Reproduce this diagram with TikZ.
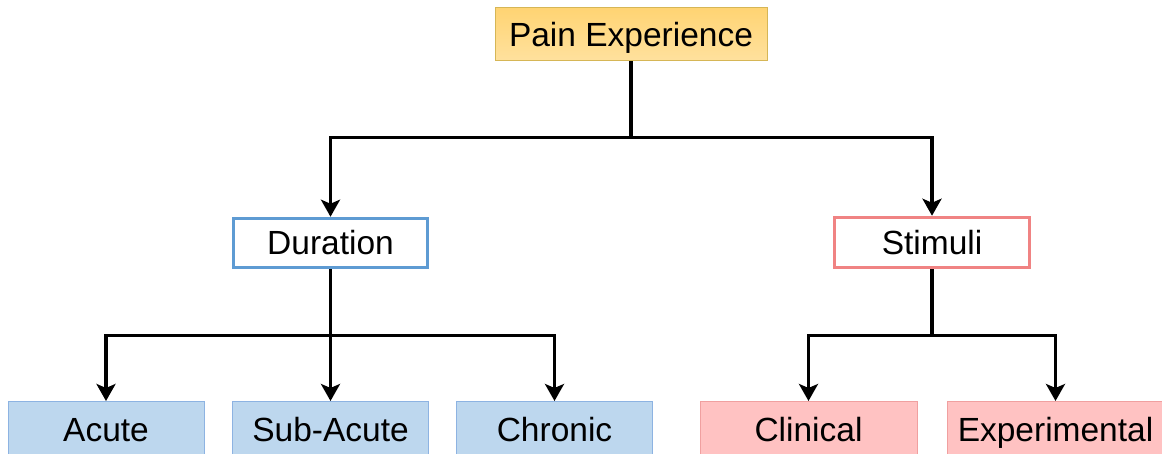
\documentclass[tikz,border=0pt]{standalone}
\usepackage{fontspec}
\setmainfont{Liberation Sans}
\usetikzlibrary{arrows.meta}
\definecolor{goldfilltop}{HTML}{FFD473}
\definecolor{goldfillbot}{HTML}{FFE19E}
\definecolor{goldline}{HTML}{D6B656}
\definecolor{blueline}{HTML}{5E9BD3}
\definecolor{bluefill}{HTML}{BDD7EE}
\definecolor{bluethin}{HTML}{8DB3E2}
\definecolor{redline}{HTML}{F08383}
\definecolor{redfill}{HTML}{FFC2C2}
\definecolor{redthin}{HTML}{F0A0A0}
\begin{document}
\begin{tikzpicture}[x=1pt,y=-1pt,
  every node/.style={font=\fontsize{33.5}{40}\selectfont, text height=24pt, text depth=0pt, inner sep=0pt},
  topbox/.style={draw=goldline, line width=1pt, top color=goldfilltop, bottom color=goldfillbot, minimum width=272pt, minimum height=53pt},
  durbox/.style={draw=blueline, fill=white, line width=3.5pt, minimum width=194pt, minimum height=49pt},
  stimbox/.style={draw=redline, fill=white, line width=3.5pt, minimum width=195pt, minimum height=50pt},
  bluebox/.style={draw=bluethin, fill=bluefill, line width=1pt, minimum width=196pt, minimum height=56pt},
  redbox/.style={draw=redthin, fill=redfill, line width=1pt, minimum width=217pt, minimum height=56pt},
  conn/.style={line width=3.2pt, draw=black, -{Stealth[length=17pt,width=19pt,inset=4pt]}}
]
\useasboundingbox (0,0) rectangle (1162,454);
\clip (0,0) rectangle (1162,454);
\fill[white] (0,0) rectangle (1162,454);

% boxes
\node[topbox]  (pain) at (631,34.5) {Pain Experience};
\node[durbox]  (dur)  at (330.5,243) {Duration};
\node[stimbox] (stim) at (932,242.5) {Stimuli};

\node[bluebox] (acute)    at (106,429.5)   {Acute};
\node[bluebox] (subacute) at (330.5,429.5) {Sub-Acute};
\node[bluebox] (chronic)  at (554.5,429.5) {Chronic};
\node[redbox]  (clin)     at (808.5,429.5) {Clinical};
\node[redbox]  (exper)    at (1055.5,429.5) {Experimental};

% connectors
\draw[conn] (pain.south) -- ++(0,76) -| (dur.north);
\draw[conn] (pain.south) -- ++(0,76) -| (stim.north);

\draw[conn] (dur.south) -- ++(0,66) -| (acute.north);
\draw[conn] (dur.south) -- (subacute.north);
\draw[conn] (dur.south) -- ++(0,66) -| (chronic.north);

\draw[conn] (stim.south) -- ++(0,66) -| (clin.north);
\draw[conn] (stim.south) -- ++(0,66) -| (exper.north);
\end{tikzpicture}
\end{document}
